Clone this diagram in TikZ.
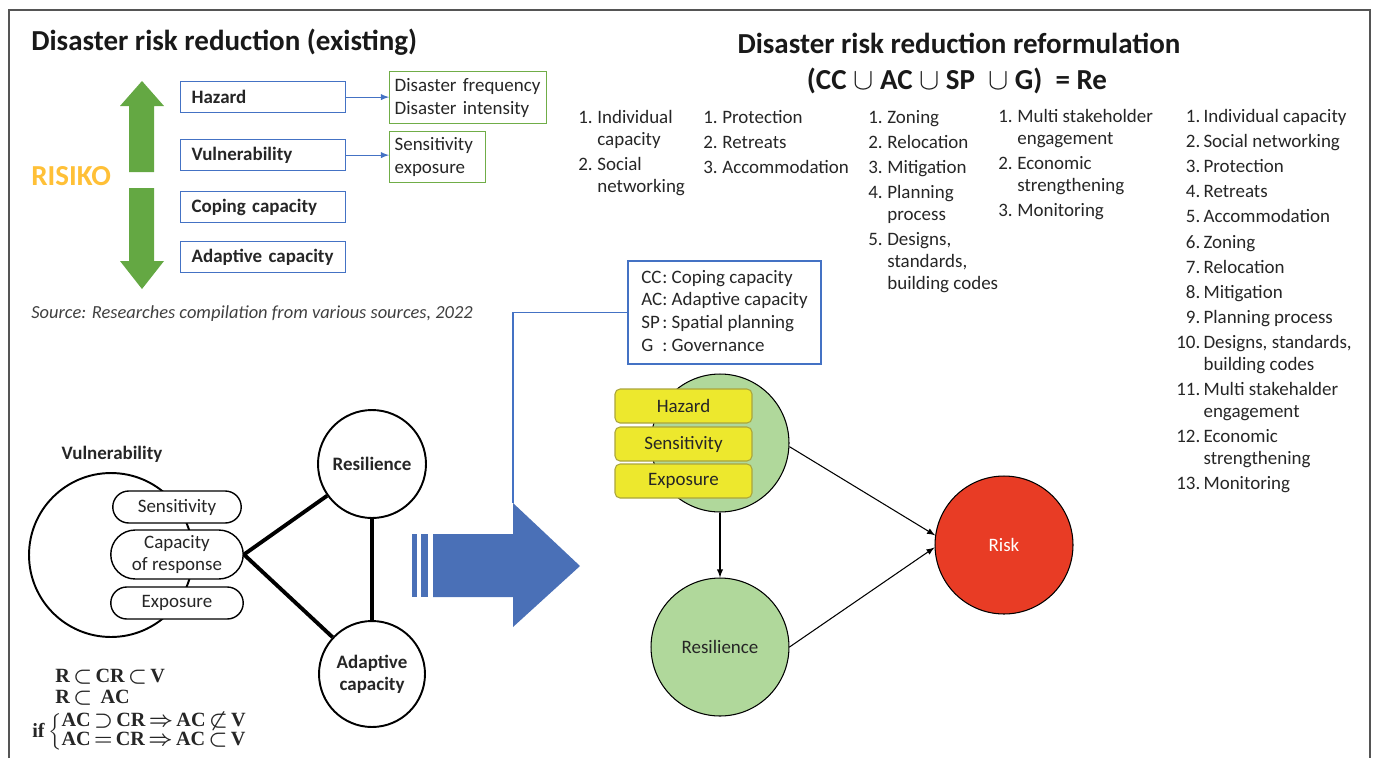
\documentclass[tikz,border=0pt]{standalone}
\usepackage{fontspec}
\setmainfont{Carlito}
\newfontfamily\timesfont{Liberation Serif}
\usepackage{amsmath}
\usepackage{amssymb}
\usetikzlibrary{positioning,shapes.misc}

\definecolor{txtdark}{RGB}{38,38,38}
\definecolor{framegray}{RGB}{85,85,85}
\definecolor{boxblue}{RGB}{68,114,196}
\definecolor{boxgreen}{RGB}{112,173,71}
\definecolor{arrowgreen}{RGB}{100,168,67}
\definecolor{risikogold}{RGB}{255,192,55}
\definecolor{bigblue}{RGB}{74,112,183}
\definecolor{circgreen}{RGB}{176,216,155}
\definecolor{yfill}{RGB}{237,232,45}
\definecolor{ydraw}{RGB}{170,165,60}
\definecolor{riskred}{RGB}{232,60,37}

\begin{document}
\begin{tikzpicture}[x=0.02cm,y=-0.02cm,>=latex,
  font=\fontsize{10.8}{13}\selectfont,text=txtdark,
  title/.style={inner sep=0pt,font=\fontsize{16.5}{19}\selectfont\bfseries,text=black!90},
  bluebox/.style={draw=boxblue,line width=0.7pt,anchor=north west,align=left,
    font=\fontsize{10.8}{13}\selectfont\bfseries,
    inner xsep=0.22cm,text width=2.86cm,minimum height=0.62cm},
  greenbox/.style={draw=boxgreen,line width=0.7pt,anchor=north west,align=left,inner xsep=0.1cm},
  list/.style={inner sep=0pt,anchor=base west,font=\fontsize{10.8}{12.5}\selectfont},
  pill/.style={rounded rectangle,draw,line width=0.8pt,fill=white,minimum height=0.64cm,
    minimum width=2.72cm,inner sep=1pt,align=center,font=\fontsize{10.8}{12}\selectfont},
  bigcirc/.style={circle,draw,line width=1.1pt,fill=white,inner sep=0pt,align=center,
    font=\fontsize{10.8}{12.5}\selectfont\bfseries},
  tie/.style={line width=2.2pt},
  formula/.style={inner sep=0pt,anchor=mid west,font=\fontsize{11.5}{12}\timesfont\bfseries\boldmath},
  gcirc/.style={circle,draw,line width=0.6pt,fill=circgreen,minimum size=2.76cm,inner sep=0pt},
  ybox/.style={draw=ydraw,fill=yfill,rounded corners=0.1cm,minimum width=2.74cm,
    minimum height=0.68cm,line width=0.6pt},
  link/.style={->,line width=0.6pt}
]
\useasboundingbox (0,0) rectangle (1376,758);
\draw[framegray,line width=0.85pt] (9,758) -- (9,10) -- (1370,10) -- (1370,758);

% existing model
\node[title,anchor=west] (ttlold) at (31,42) {Disaster risk reduction (existing)};
\fill[arrowgreen] (142,81) -- (164,106) -- (154,106) -- (154,172) -- (129,172) -- (129,106) -- (120,106) -- cycle;
\fill[arrowgreen] (142,289) -- (164,261) -- (154,261) -- (154,188) -- (129,188) -- (129,261) -- (120,261) -- cycle;
\node[anchor=west,inner sep=0pt,font=\fontsize{16.5}{19}\selectfont\bfseries,text=risikogold] (risiko) at (31,176) {RISIKO};
\node[bluebox] (hazard) at (180,81) {Hazard};
\node[bluebox] (vulner) at (180,139) {Vulnerability};
\node[bluebox] (coping) at (180,191) {Coping capacity};
\node[bluebox] (adaptive) at (180,241) {Adaptive capacity};
\node[greenbox,text width=2.94cm,minimum height=1.04cm] (hazinfo) at (389,71) {Disaster frequency\\Disaster intensity};
\node[greenbox,text width=1.72cm,minimum height=0.96cm] (vulinfo) at (389,131) {Sensitivity\\exposure};
\draw[->,boxblue,line width=0.6pt] (hazard.east) -- (hazard.east -| hazinfo.west);
\draw[->,boxblue,line width=0.6pt] (vulner.east) -- (vulner.east -| vulinfo.west);
\node[anchor=west,inner sep=0pt,font=\fontsize{10.5}{13}\selectfont\itshape,text=black!75] (source) at (31,314)
  {Source: Researches compilation from various sources, 2022};

% reformulation
\node[title] (ttlnew) at (959,43) {Disaster risk reduction reformulation};
\node[title] (reform) at (957,81) {(CC $\cup$ AC $\cup$ SP\ \ $\cup$ G)\ \ = Re};
\node[list] (cclist) at (578,123.4) {\begin{tabular}[t]{@{}l@{\hspace{2.6pt}}l@{}}
  1.&Individual\\&capacity\\[1.8pt]2.&Social\\&networking\end{tabular}};
\node[list] (aclist) at (703,123.4) {\begin{tabular}[t]{@{}l@{\hspace{2.6pt}}l@{}}
  1.&Protection\\[1.8pt]2.&Retreats\\[1.8pt]3.&Accommodation\end{tabular}};
\node[list] (splist) at (868,123.4) {\begin{tabular}[t]{@{}l@{\hspace{2.6pt}}l@{}}
  1.&Zoning\\[1.8pt]2.&Relocation\\[1.8pt]3.&Mitigation\\[1.8pt]4.&Planning\\&process\\[1.8pt]
  5.&Designs,\\&standards,\\&building codes\end{tabular}};
\node[list] (glist) at (998,122.4) {\begin{tabular}[t]{@{}l@{\hspace{2.6pt}}l@{}}
  1.&Multi stakeholder\\&engagement\\[1.8pt]2.&Economic\\&strengthening\\[1.8pt]3.&Monitoring\end{tabular}};
\node[list] (alllist) at (1176,122.4) {\begin{tabular}[t]{@{}r@{\hspace{1.8pt}}l@{}}
  1.&Individual capacity\\[1.8pt]2.&Social networking\\[1.8pt]3.&Protection\\[1.8pt]4.&Retreats\\[1.8pt]
  5.&Accommodation\\[1.8pt]6.&Zoning\\[1.8pt]7.&Relocation\\[1.8pt]8.&Mitigation\\[1.8pt]
  9.&Planning process\\[1.8pt]10.&Designs, standards,\\&building codes\\[1.8pt]
  11.&Multi stakehalder\\&engagement\\[1.8pt]12.&Economic\\&strengthening\\[1.8pt]13.&Monitoring\end{tabular}};

\node[draw=boxblue,line width=0.7pt,minimum width=3.86cm,minimum height=2.06cm,
  font=\fontsize{10.8}{12.9}\selectfont] (legend) at (724.5,312.5) {\begin{tabular}{@{}l@{:\ }l@{}}
  CC&Coping capacity\\AC&Adaptive capacity\\SP&Spatial planning\\G&Governance\end{tabular}};

% big arrow
\fill[bigblue] (412,534) rectangle (417,597);
\fill[bigblue] (421,534) rectangle (428,597);
\fill[bigblue] (433,534) -- (513,534) -- (513,503) -- (580,566) -- (513,627) -- (513,597) -- (433,597) -- cycle;
\coordinate (arrowtop) at (513,503);
\draw[boxblue,line width=0.6pt] (legend.west) -| (arrowtop);

% left model
\node[circle,draw,line width=1.1pt,minimum size=3.28cm,inner sep=0pt] (vulcirc) at (111,555) {};
\node[font=\fontsize{10.8}{13}\selectfont\bfseries] (vullabel) at (112,454) {Vulnerability};
\node[pill,minimum width=2.64cm] (sens) at (177,507) {Sensitivity};
\node[pill,minimum height=0.98cm] (capresp) at (177,554.5) {Capacity\\of response};
\node[pill] (expo) at (177,603) {Exposure};
\node[bigcirc,minimum size=2.16cm] (reslc) at (372,464) {Resilience};
\node[bigcirc,minimum size=2.12cm] (adapc) at (372,674) {Adaptive\\capacity};
\draw[tie] (capresp.east) -- (reslc);
\draw[tie] (capresp.east) -- (adapc);
\draw[tie] (reslc) -- (adapc);
\node[formula] (f1) at (55,678) {$\thickmuskip=2.5mu\text{R}\subset\text{CR}\subset\text{V}$};
\node[formula] (f2) at (55,699) {$\thickmuskip=2.5mu\text{R}\subset\ \text{AC}$};
\node[formula] (f3) at (32,733) {if\,$\thickmuskip=2.5mu\delimiterfactor=800\left\{\def\arraystretch{0.9}\begin{array}{@{}l@{}}
  \text{AC}\supset\text{CR}\Rightarrow\text{AC}\not\subset\text{V}\\
  \text{AC}=\text{CR}\Rightarrow\text{AC}\subset\text{V}\end{array}\right.$};

% right model
\node[gcirc] (hazcirc) at (720,443) {};
\node[ybox] (yhaz) at (683.5,406) {Hazard};
\node[ybox] (ysens) at (683.5,444) {Sensitivity};
\node[ybox] (yexpo) at (683.5,481) {Exposure};
\node[gcirc] (resil) at (720,647) {Resilience};
\node[circle,draw,line width=0.6pt,fill=riskred,text=white,minimum size=2.76cm,inner sep=0pt] (risk) at (1004,545) {Risk};
\draw[link] (hazcirc.south) -- (resil.north);
\draw[link] (hazcirc.-3) -- (risk.172);
\draw[link] (resil.east) -- (risk.182);
\end{tikzpicture}
\end{document}
